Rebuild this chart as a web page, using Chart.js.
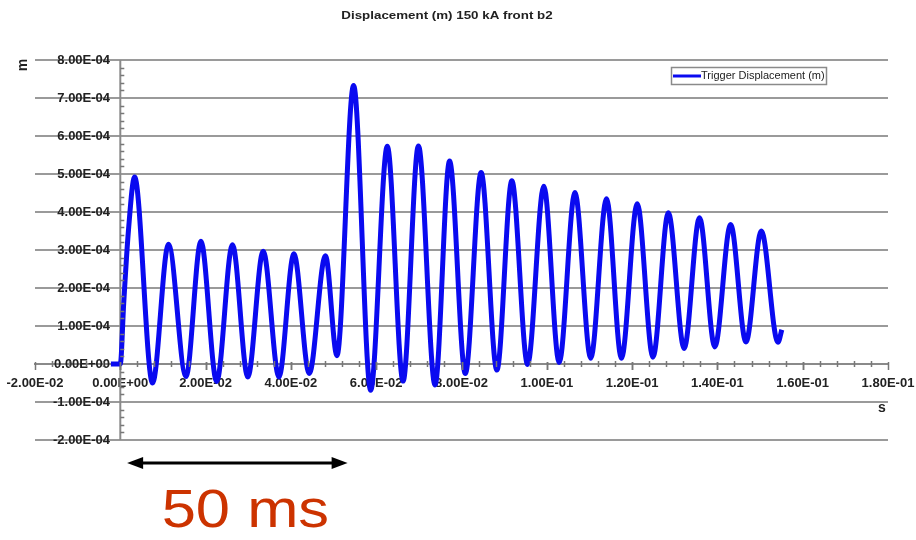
<!DOCTYPE html>
<html><head><meta charset="utf-8">
<script src="https://cdn.jsdelivr.net/npm/chart.js@4/dist/chart.umd.min.js"></script>
<style>html,body{margin:0;padding:0;background:#fff;}canvas{display:block}</style>
</head><body>
<canvas id="c" width="916" height="540"></canvas>
<script>
const chartTitle = 'Displacement (m) 150 kA front b2';
const seriesName = 'Trigger Displacement (m)';
const xAxisTitle = 's';
const yAxisTitle = 'm';

// time (s)
const times = [-0.0022, 0.0, 0.0008, 0.0019, 0.00335, 0.00756, 0.0113, 0.0154, 0.0189, 0.0226,
  0.0263, 0.0299, 0.0335, 0.0372, 0.0407, 0.0443, 0.0481, 0.0508, 0.0547, 0.0587,
  0.0626, 0.0663, 0.0699, 0.0738, 0.0772, 0.0809, 0.0846, 0.0883, 0.0918, 0.0955,
  0.0993, 0.1029, 0.1066, 0.1103, 0.1140, 0.1175, 0.1212, 0.1249, 0.1285, 0.1322,
  0.1358, 0.1394, 0.1431, 0.1467, 0.1503, 0.1542, 0.1551];
// displacement (m)
const displacement = [0, 0, 1.6e-4, 3.5e-4, 4.92e-4, -5.0e-5, 3.15e-4, -3.3e-5, 3.23e-4, -4.6e-5,
  3.14e-4, -3.4e-5, 2.97e-4, -3.4e-5, 2.90e-4, -2.5e-5, 2.85e-4, 2.2e-5, 7.33e-4, -6.9e-5,
  5.73e-4, -4.5e-5, 5.74e-4, -5.5e-5, 5.34e-4, -2.5e-5, 5.04e-4, -1.6e-5, 4.82e-4, -1e-6,
  4.68e-4, 4e-6, 4.51e-4, 1.5e-5, 4.35e-4, 1.5e-5, 4.22e-4, 1.8e-5, 3.98e-4, 4.1e-5,
  3.85e-4, 4.5e-5, 3.67e-4, 5.8e-5, 3.50e-4, 5.7e-5, 9.0e-5];

const xTickValues = [-0.02, 0, 0.02, 0.04, 0.06, 0.08, 0.10, 0.12, 0.14, 0.16, 0.18];
const xTickLabels = ['-2.00E-02','0.00E+00','2.00E-02','4.00E-02','6.00E-02','8.00E-02','1.00E-01','1.20E-01','1.40E-01','1.60E-01','1.80E-01'];
const yTickValues = [-2e-4, -1e-4, 0, 1e-4, 2e-4, 3e-4, 4e-4, 5e-4, 6e-4, 7e-4, 8e-4];
const yTickLabels = ['-2.00E-04','-1.00E-04','0.00E+00','1.00E-04','2.00E-04','3.00E-04','4.00E-04','5.00E-04','6.00E-04','7.00E-04','8.00E-04'];

// annotation: span marker below the chart
const spanStart = 0.0016, spanEnd = 0.0533;
const spanLabel = '50 ms';

const FONT = '"Liberation Sans", Arial, Helvetica, sans-serif';
const LINE_BLUE = '#0a0af0';
const AXIS_GREY = '#8a8a8a';

const zeroPad = s => { s.paddingLeft = 0; s.paddingRight = 0; s.paddingTop = 0; s.paddingBottom = 0; };

const decor = {
  id: 'decor',
  beforeDraw(chart) {
    const ctx = chart.ctx;
    ctx.save();
    ctx.fillStyle = '#ffffff';
    ctx.fillRect(0, 0, chart.width, chart.height);
    ctx.restore();
  },
  beforeDatasetsDraw(chart) {
    const ctx = chart.ctx;
    const xs = chart.scales.x, ys = chart.scales.y;
    const x0 = xs.getPixelForValue(0);
    ctx.save();
    ctx.strokeStyle = AXIS_GREY; ctx.lineWidth = 2;
    ctx.beginPath();
    ctx.moveTo(x0, ys.getPixelForValue(yTickValues[yTickValues.length - 1]));
    ctx.lineTo(x0, ys.getPixelForValue(yTickValues[0]));
    ctx.stroke();
    ctx.restore();
  },
  afterDraw(chart) {
    const ctx = chart.ctx;
    const xs = chart.scales.x, ys = chart.scales.y;
    const ca = chart.chartArea;
    const x0 = xs.getPixelForValue(0), y0 = ys.getPixelForValue(0);
    ctx.save();
    // tick marks on x axis
    ctx.strokeStyle = '#777';
    ctx.lineWidth = 1.5;
    for (let i = 0; i < xTickValues.length - 1; i++) {
      const a = xTickValues[i], b = xTickValues[i + 1];
      for (let k = 0; k <= 5; k++) {
        const px = Math.round(xs.getPixelForValue(a + (b - a) * k / 5)) + 0.5;
        ctx.beginPath();
        if (k === 0 || k === 5) { ctx.moveTo(px, y0 - 2); ctx.lineTo(px, y0 + 6); }
        else { ctx.moveTo(px, y0 - 3); ctx.lineTo(px, y0 + 3); }
        ctx.stroke();
      }
    }
    // minor ticks on y axis
    for (let i = 0; i < yTickValues.length - 1; i++) {
      const a = yTickValues[i], b = yTickValues[i + 1];
      for (let k = 1; k < 5; k++) {
        const py = Math.round(ys.getPixelForValue(a + (b - a) * k / 5)) + 0.5;
        ctx.beginPath(); ctx.moveTo(x0, py); ctx.lineTo(x0 + 4, py); ctx.stroke();
      }
    }
    // title
    ctx.fillStyle = '#222';
    ctx.font = 'bold 11.5px ' + FONT;
    ctx.textAlign = 'center'; ctx.textBaseline = 'middle';
    ctx.save();
    ctx.translate(447, 16); ctx.scale(1.16, 1);
    ctx.fillText(chartTitle, 0, 0);
    ctx.restore();
    // axis titles
    ctx.font = 'bold 14px ' + FONT;
    ctx.fillText(xAxisTitle, 882, 408);
    ctx.save();
    ctx.translate(23, 65); ctx.rotate(-Math.PI / 2);
    ctx.fillText(yAxisTitle, 0, 0);
    ctx.restore();
    // legend
    ctx.fillStyle = '#fff';
    ctx.fillRect(671.5, 67.5, 155, 17);
    ctx.strokeStyle = AXIS_GREY; ctx.lineWidth = 1.5;
    ctx.strokeRect(671.5, 67.5, 155, 17);
    ctx.strokeStyle = LINE_BLUE; ctx.lineWidth = 3;
    ctx.beginPath(); ctx.moveTo(673, 76); ctx.lineTo(701, 76); ctx.stroke();
    ctx.fillStyle = '#222';
    ctx.font = '10px ' + FONT;
    ctx.textAlign = 'left';
    ctx.save();
    ctx.translate(701, 76.5); ctx.scale(1.1, 1);
    ctx.fillText(seriesName, 0, 0);
    ctx.restore();
    // span arrow
    const ax1 = xs.getPixelForValue(spanStart), ax2 = xs.getPixelForValue(spanEnd);
    const ay = ca.bottom + 23;
    ctx.strokeStyle = '#000'; ctx.fillStyle = '#000'; ctx.lineWidth = 3;
    ctx.beginPath(); ctx.moveTo(ax1 + 10, ay); ctx.lineTo(ax2 - 10, ay); ctx.stroke();
    ctx.beginPath(); ctx.moveTo(ax1, ay); ctx.lineTo(ax1 + 16, ay - 6); ctx.lineTo(ax1 + 16, ay + 6); ctx.closePath(); ctx.fill();
    ctx.beginPath(); ctx.moveTo(ax2, ay); ctx.lineTo(ax2 - 16, ay - 6); ctx.lineTo(ax2 - 16, ay + 6); ctx.closePath(); ctx.fill();
    // span label
    ctx.fillStyle = '#cc3300';
    ctx.font = '53px ' + FONT;
    ctx.textAlign = 'center'; ctx.textBaseline = 'alphabetic';
    ctx.save();
    ctx.translate((ax1 + ax2) / 2 + 8, ca.bottom + 87);
    ctx.scale(1.16, 1);
    ctx.fillText(spanLabel, 0, 0);
    ctx.restore();
    ctx.restore();
  }
};

new Chart(document.getElementById('c'), {
  type: 'line',
  data: {
    datasets: [{
      label: seriesName,
      data: times.map((t, i) => ({ x: t, y: displacement[i] })),
      borderColor: LINE_BLUE,
      borderWidth: 5,
      pointRadius: 0,
      cubicInterpolationMode: 'monotone',
      fill: false
    }]
  },
  options: {
    responsive: false,
    animation: false,
    devicePixelRatio: 1,
    layout: { autoPadding: false, padding: { left: 35, right: 28, top: 60, bottom: 100 } },
    plugins: { legend: { display: false }, title: { display: false }, tooltip: { enabled: false } },
    scales: {
      x: {
        type: 'linear', min: -0.02, max: 0.18, position: { y: 0 },
        afterBuildTicks: s => { s.ticks = xTickValues.map(v => ({ value: v })); },
        afterFit: zeroPad,
        ticks: {
          callback: (v, i) => xTickLabels[i],
          autoSkip: false, maxRotation: 0, padding: 12,
          color: '#222', font: { family: FONT, size: 13, weight: 'bold' }
        },
        grid: { display: true, drawOnChartArea: false, drawTicks: false },
        border: { display: true, color: AXIS_GREY, width: 2 }
      },
      y: {
        type: 'linear', min: -2e-4, max: 8e-4, position: { x: -0.0024 },
        afterBuildTicks: s => { s.ticks = yTickValues.map(v => ({ value: v })); },
        afterFit: zeroPad,
        ticks: {
          callback: (v, i) => yTickLabels[i],
          autoSkip: false, padding: 0,
          color: '#222', font: { family: FONT, size: 13, weight: 'bold' }
        },
        grid: { color: '#9a9a9a', lineWidth: 2, drawTicks: false },
        border: { display: false }
      }
    }
  },
  plugins: [decor]
});
</script>
</body></html>
